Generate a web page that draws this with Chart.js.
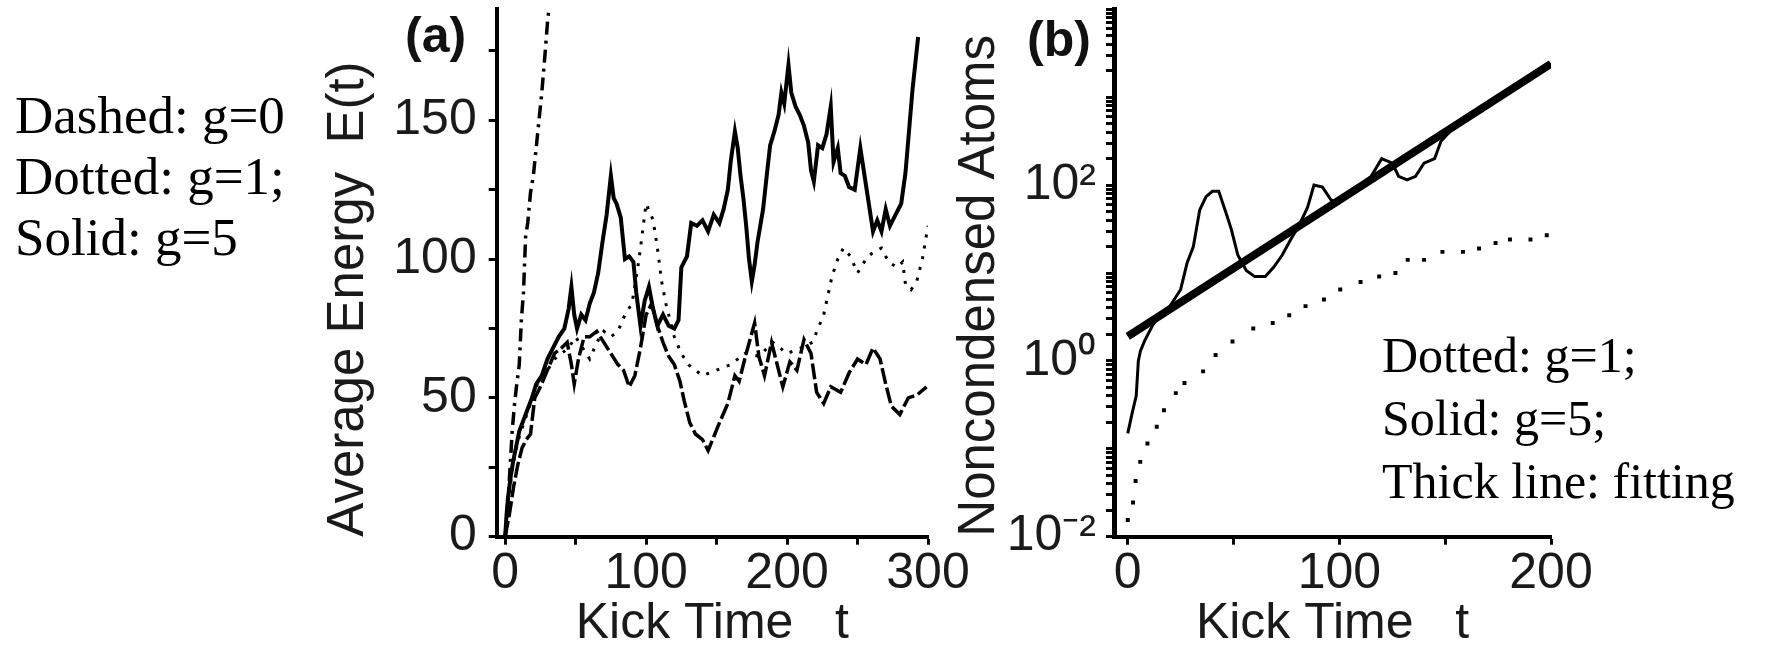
<!DOCTYPE html>
<html><head><meta charset="utf-8">
<script src="https://cdn.jsdelivr.net/npm/chart.js@4.4.1/dist/chart.umd.min.js"></script>
<style>
html,body{margin:0;padding:0;background:#fff;}
#wrap{position:relative;width:1765px;height:648px;overflow:hidden;background:#fff;}
canvas{position:absolute;top:0;}
#cA{left:0;} #cB{left:900px;}
.note{position:absolute;font-family:"Liberation Serif","Times New Roman",serif;color:#000;white-space:nowrap;}
.tag{position:absolute;font-family:"Liberation Sans",Arial,sans-serif;font-weight:bold;font-size:50px;line-height:50px;color:#111;}
</style></head><body>
<div id="wrap">
<canvas id="cA" width="1010" height="648"></canvas>
<canvas id="cB" width="865" height="648"></canvas>
<div class="note" style="left:15px;top:85px;font-size:53px;line-height:61px;"><div>Dashed: g=0</div><div>Dotted: g=1;</div><div>Solid: g=5</div></div>
<div class="note" style="left:1382px;top:324px;font-size:50px;line-height:63px;"><div>Dotted: g=1;</div><div>Solid: g=5;</div><div>Thick line: fitting</div></div>
<div class="tag" style="left:405px;top:10px;">(a)</div>
<div class="tag" style="left:1027px;top:14px;">(b)</div>
</div>
<script>
// ---------- Panel (a): average energy ----------
const aG0T = [0,1,2,3.5,5,6.5,8,10,11.5,13,14.5,16,18,20,22,24,26,28,30,31];
const aG0E = [0,6,13,25,38,47,54,62,78,88,108,113,124,130,140,150,160,172,185,190];

const aG1T = [0,2,4,7,10,14,18,22,26,30,35,40,45,50,55,60,65,70,75,80,85,90,95,100,105,108,111,114,117,120,125,130,135,140,150,160,170,180,190,200,210,218,222,226,229,232,236,240,245,250,256,260,267,272,278,282,284,288,292,296,300];
const aG1E = [0,10,20,30,36,42,48,54,58,60,64,66,68,72,68,64,70,74,72,74,80,84,100,120,114,104,92,84,78,72,66,62,60,58,60,62,66,65,70,66,68,70,75,80,87,94,100,104,101,95,100,102,104,99,97,99,91,89,92,100,112];

const aGxT = [0,3,6,9,12,15,18,21,25,30,35,40,44,47,49,52,56,60,65,70,75,80,84,88,92,96,100,104,108,112,116,120,124,127,131,135,140,144,148,152,158,163,166,171,177,180,184,189,193,197,202,207,212,217,221,226,231,238,244,250,256,261,266,270,274,280,286,292,299];
const aGxE = [0,8,18,26,32,35,37,50,54,60,66,68,70,62,55,64,72,72,74,70,66,62,60,54,58,68,80,84,76,70,65,62,56,49,41,37,35,31,36,41,48,58,56,66,77,65,58,70,62,54,63,60,71,66,52,48,54,52,59,64,62,68,64,55,47,44,50,51,54];

const aG5T = [0,1,2,4,6,8,10,13,16,19,22,26,30,34,38,42,45,47,49,51,54,57,60,63,66,69,72,75,77,79,82,85,88,91,93,96,99,102,105,108,112,116,120,123,125,129,132,136,140,144,148,152,155,158,160,163,165,167,169,171,173,175,177,179,181,183,186,188,191,194,196,198,201,203,206,209,212,215,217,219,222,225,228,231,233,236,238,241,244,248,252,255,258,261,264,267,270,273,277,281,284,287,289,293];
const aG5E = [0,8,14,22,28,33,38,42,46,50,55,58,64,68,72,75,82,90,80,75,80,78,84,88,95,106,116,130,122,120,115,100,101,99,88,76,85,90,82,76,80,76,75,78,97,101,113,112,114,110,116,113,118,125,135,146,140,130,122,112,100,92,98,106,112,118,132,141,146,152,160,156,170,160,155,152,148,142,132,128,141,140,145,155,135,140,131,130,126,125,140,130,120,110,114,110,118,112,116,120,131,149,161,180];

const aXLabeled = [0,100,200,300];
const aYLabeled = [0,50,100,150];

// ---------- Panel (b): noncondensed atoms ----------
const bG1T = [0,2.5,3.7,5.9,9.3,13.7,17.1,22.7,26.8,35.6,41.5,49.5,59.3,68.5,76.3,84,92.7,100.4,110,118.8,126.5,132.3,140,148.7,158.4,166,173.8,180.6,190.3,198];
const bG1N = [0.0155,0.0245,0.043,0.071,0.115,0.178,0.275,0.43,0.56,0.76,1.17,1.66,2.34,2.7,3.3,4.2,5.0,6.5,7.9,9.1,10,14.1,14.1,17.4,17.4,19,21.9,24,24,26.9];

const bG5T = [0,2,4,5,6,8,12,16,20,25,28,31,34,37,40,43,47,49,52,56,60,65,69,73,77,81,85,88,92,96,100,105,110,115,120,125,128,132,136,140,145,148,155,160,170,180,190,200];
const bG5N = [0.15,0.25,0.4,1.0,1.3,1.7,2.6,3.5,4.2,6.5,12.9,20,52,74,85,85,44,31,16,10.7,9.1,9.1,11.7,16,24,35,56,100,95,68,63,79,100,126,200,178,126,115,126,178,200,316,480,575,810,1175,1660,2400];

const bFitT = [0,200];
const bFitN = [1.9,2400];

const bXLabeled = [0,100,200];
const bYDecades = [0.01,0.1,1,10,100,1000];
const bYMultipliers = [1,2,3,4,5,6,7,8,9];
const bYTop = 10000;
const bYLabelValues = [0.01,1,100];
const bYLabelTexts = ['10\u207B\u00B2','10\u2070','10\u00B2'];

function pts(xs, ys){ return xs.map((x,i)=>({x:x, y:ys[i]})); }
const SANS = "'Liberation Sans', Arial, Helvetica, sans-serif";
const INK = '#1a1a1a';

function xScale(min, max, labeled, title){
  return {
    type:'linear', position:'bottom', min:min, max:max,
    ticks:{stepSize:50, autoSkip:false, includeBounds:false, maxRotation:0, minRotation:0, padding:0,
      color:INK, font:{family:SANS, size:50},
      callback:(v)=> labeled.includes(v) ? String(v) : ''},
    grid:{drawOnChartArea:false, drawTicks:true, tickLength:8, tickWidth:3, tickColor:'#000'},
    border:{display:true, color:'#000', width:4},
    title:{display:true, text:title, color:INK, font:{family:SANS, size:50, lineHeight:0.8}, padding:{top:0, bottom:4}},
    afterFit:(s)=>{ s.height = 111.3; s.paddingLeft = 0; s.paddingRight = 0; }
  };
}

const common = {
  responsive:false, animation:false, devicePixelRatio:1,
  plugins:{legend:{display:false}, tooltip:{enabled:false}},
  elements:{point:{radius:0}, line:{borderColor:'#000', tension:0, fill:false, borderCapStyle:'butt', borderJoinStyle:'miter'}}
};

new Chart(document.getElementById('cA'), {
  type:'line',
  data:{datasets:[
    {data:pts(aG0T,aG0E), borderColor:'#000', borderWidth:3.5, borderDash:[13,6,3,6], pointRadius:0},
    {data:pts(aG1T,aG1E), borderColor:'#000', borderWidth:3, borderDash:[3,8], pointRadius:0},
    {data:pts(aGxT,aGxE), borderColor:'#000', borderWidth:3.5, borderDash:[16,4], pointRadius:0},
    {data:pts(aG5T,aG5E), borderColor:'#000', borderWidth:4, pointRadius:0}
  ]},
  options:Object.assign({}, common, {
    layout:{padding:{left:300, top:9.3, right:82, bottom:0}},
    scales:{
      x: xScale(-6, 300, aXLabeled, 'Kick Time   t'),
      y:{
        type:'linear', min:0, max:190,
        ticks:{stepSize:25, autoSkip:false, includeBounds:false, padding:12, color:INK, font:{family:SANS, size:50},
          callback:(v)=> aYLabeled.includes(v) ? String(v) : ''},
        grid:{drawOnChartArea:false, drawTicks:true, tickLength:8, tickWidth:3, tickColor:'#000'},
        border:{display:true, color:'#000', width:4},
        title:{display:true, text:'Average Energy  E(t)', align:'start', color:INK, font:{family:SANS, size:51, lineHeight:0.8}, padding:{top:28.6, bottom:0}},
        afterFit:(s)=>{ s.width = 196.7; s.paddingTop = 0; s.paddingBottom = 0; }
      }
    }
  })
});

new Chart(document.getElementById('cB'), {
  type:'line',
  data:{datasets:[
    {data:pts(bFitT,bFitN), borderColor:'#000', borderWidth:8, pointRadius:0},
    {data:pts(bG5T,bG5N), borderColor:'#000', borderWidth:3, pointRadius:0},
    {data:pts(bG1T,bG1N), showLine:false, pointRadius:2.8, pointStyle:'rect', pointBackgroundColor:'#000', pointBorderWidth:0, borderColor:'#000'}
  ]},
  options:Object.assign({}, common, {
    layout:{padding:{left:40, top:9.3, right:214, bottom:0}},
    scales:{
      x: xScale(-6.5, 200, bXLabeled, 'Kick Time   t'),
      y:{
        type:'logarithmic', min:0.01, max:10000,
        afterBuildTicks:(s)=>{
          const t = [];
          bYDecades.forEach(d=>bYMultipliers.forEach(m=>t.push({value:d*m})));
          t.push({value:bYTop});
          s.ticks = t;
        },
        ticks:{autoSkip:false, padding:10, color:INK, font:{family:SANS, size:50},
          callback:(v)=>{ const i = bYLabelValues.findIndex(u=>Math.abs(u-v)/u < 1e-6); return i >= 0 ? bYLabelTexts[i] : ''; }},
        grid:{drawOnChartArea:false, drawTicks:true, tickLength:8, tickWidth:3, tickColor:'#000'},
        border:{display:true, color:'#000', width:5},
        title:{display:true, text:'Noncondensed Atoms', align:'start', color:INK, font:{family:SANS, size:51, lineHeight:0.8}, padding:{top:19.6, bottom:0}},
        afterFit:(s)=>{ s.width = 174; s.paddingTop = 0; s.paddingBottom = 0; }
      }
    }
  })
});
</script>
</body></html>
